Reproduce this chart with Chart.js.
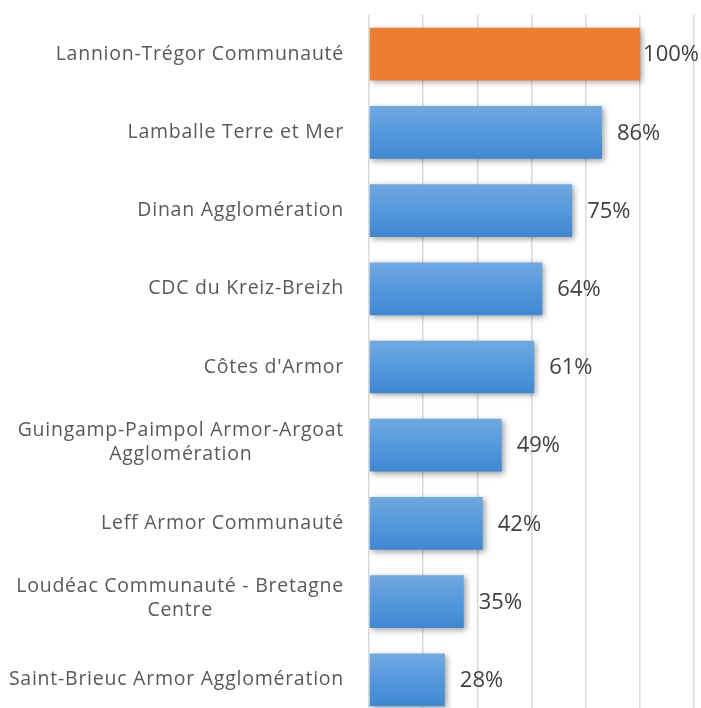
<!DOCTYPE html>
<html>
<head>
<meta charset="utf-8">
<script src="https://cdn.jsdelivr.net/npm/chart.js@4"></script>
<style>
  html, body { margin: 0; padding: 0; background: #fff; overflow: hidden; }
  #wrap { width: 701px; height: 720px; }
</style>
</head>
<body>
<div id="wrap"><canvas id="chart"></canvas></div>
<script>
/* =========================
   DATA
========================= */

const categories = [
  ["Lannion-Trégor Communauté"],
  ["Lamballe Terre et Mer"],
  ["Dinan Agglomération"],
  ["CDC du Kreiz-Breizh"],
  ["Côtes d'Armor"],
  ["Guingamp-Paimpol Armor-Argoat", "Agglomération"],
  ["Leff Armor Communauté"],
  ["Loudéac Communauté - Bretagne", "Centre"],
  ["Saint-Brieuc Armor Agglomération"]
];

const values = [100, 86, 75, 64, 61, 49, 42, 35, 28];

const valueLabels = ["100%", "86%", "75%", "64%", "61%", "49%", "42%", "35%", "28%"];

const highlightIndex = 0;

/* =========================
   PLUGINS
========================= */

const FONT = "'Open Sans', 'Noto Sans', sans-serif";
const BAR_PCT = 0.674;

// bar shadow, like the Excel default
const shadowPlugin = {
  id: "barShadow",
  beforeDatasetsDraw(chart) {
    const ctx = chart.ctx;
    ctx.save();
    ctx.shadowColor = "rgba(0,0,0,0.38)";
    ctx.shadowBlur = 6;
    ctx.shadowOffsetX = 2;
    ctx.shadowOffsetY = 2;
  },
  afterDatasetsDraw(chart) {
    chart.ctx.restore();
  }
};

// category labels: right aligned block, each line centred in it
const catLabelPlugin = {
  id: "catLabels",
  afterDraw(chart) {
    const ctx = chart.ctx;
    const y = chart.scales.y;
    const right = 344;
    const lineH = 24;
    ctx.save();
    ctx.font = "19.5px " + FONT;
    ctx.letterSpacing = "0.75px";
    ctx.fillStyle = "#595959";
    ctx.textAlign = "center";
    ctx.textBaseline = "middle";
    categories.forEach((lines, i) => {
      const cy = y.getPixelForValue(i);
      const w = Math.max(...lines.map(l => ctx.measureText(l).width));
      const cx = right - w / 2;
      const top = cy - (lines.length - 1) * lineH / 2 - (lines.length > 1 ? 3 : 0);
      lines.forEach((l, k) => ctx.fillText(l, cx, top + k * lineH));
    });
    ctx.restore();
  }
};

// value labels at the end of each bar
const valueLabelPlugin = {
  id: "valueLabels",
  afterDatasetsDraw(chart) {
    const ctx = chart.ctx;
    const meta = chart.getDatasetMeta(0);
    ctx.save();
    ctx.font = "22px " + FONT;
    ctx.fillStyle = "#404040";
    ctx.textAlign = "left";
    ctx.textBaseline = "middle";
    meta.data.forEach((bar, i) => {
      const txt = valueLabels[i];
      const w = ctx.measureText(txt).width;
      let x = bar.x + 15;
      if (x + w > chart.width - 2) x = chart.width - 2 - w;
      ctx.fillText(txt, x, bar.y + 1);
    });
    ctx.restore();
  }
};

/* =========================
   CHART
========================= */

function barColor(c) {
  if (c.dataIndex === highlightIndex) return "#ED7D31";
  const chart = c.chart;
  const y = chart.scales.y;
  if (!y || !chart.chartArea) return "#5B9BD5";
  const band = (y.bottom - y.top) / categories.length;
  const cy = y.getPixelForValue(c.dataIndex);
  const h = band * BAR_PCT;
  const g = chart.ctx.createLinearGradient(0, cy - h / 2, 0, cy + h / 2);
  g.addColorStop(0, "#71A8E0");
  g.addColorStop(0.5, "#5499DC");
  g.addColorStop(1, "#3F87CF");
  return g;
}

new Chart(document.getElementById("chart"), {
  type: "bar",
  data: {
    labels: categories.map(l => l.join(" ")),
    datasets: [{
      data: values,
      backgroundColor: barColor,
      borderWidth: 0,
      barPercentage: BAR_PCT,
      categoryPercentage: 1
    }]
  },
  options: {
    indexAxis: "y",
    responsive: true,
    maintainAspectRatio: false,
    animation: false,
    events: [],
    layout: { padding: { top: 15, right: 7, bottom: 1, left: 0 } },
    plugins: {
      legend: { display: false },
      tooltip: { enabled: false }
    },
    scales: {
      x: {
        min: 0,
        max: 120,
        ticks: { display: false, stepSize: 20 },
        grid: { color: "#D9D9D9", lineWidth: 1.5, drawTicks: false },
        border: { display: false },
        afterFit(s) { s.height = 0; }
      },
      y: {
        ticks: { display: false },
        grid: { display: false, drawTicks: false },
        border: { display: false },
        afterFit(s) { s.width = 369; }
      }
    }
  },
  plugins: [shadowPlugin, valueLabelPlugin, catLabelPlugin]
});
</script>
</body>
</html>
